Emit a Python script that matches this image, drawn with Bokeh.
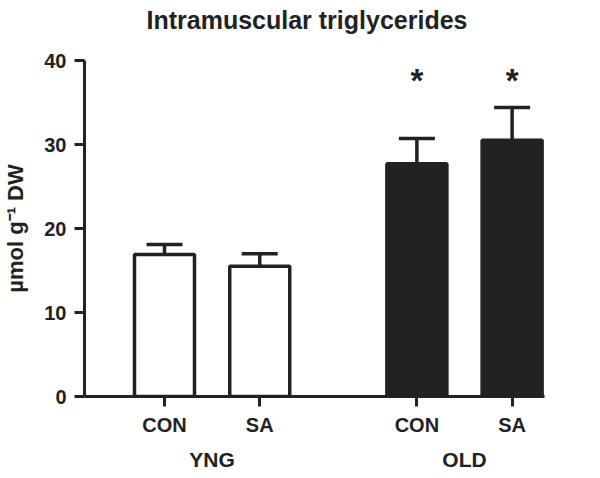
from bokeh.plotting import figure
from bokeh.models import Range1d, FixedTicker, LinearAxis, Whisker, TeeHead, ColumnDataSource, Title
from bokeh.core.properties import value
from bokeh.embed import file_html
from bokeh.resources import INLINE

# ---- data ----
groups = ["YNG", "YNG", "OLD", "OLD"]
conditions = ["CON", "SA", "CON", "SA"]
means = [16.9, 15.5, 27.7, 30.5]
sems = [1.2, 1.5, 3.0, 3.9]
significant = [False, False, True, True]
sig_level = 37.65
y_ticks = [0, 10, 20, 30, 40]
title_text = "Intramuscular triglycerides"
y_label_text = "µmol g⁻¹ DW"

# ---- layout helpers ----
FONT = "Liberation Sans"
INK = "#222222"
group_order = ["YNG", "OLD"]
group_step = 2.65
within = []
seen = {}
for g in groups:
    within.append(seen.get(g, 0))
    seen[g] = seen.get(g, 0) + 1
xs = [group_order.index(g) * group_step + w for g, w in zip(groups, within)]
group_centers = []
for g in group_order:
    gx = [x for x, gg in zip(xs, groups) if gg == g]
    group_centers.append(sum(gx) / len(gx))

fills = ["white" if g == "YNG" else INK for g in groups]
src = ColumnDataSource(dict(x=xs, top=means, upper=[m + s for m, s in zip(means, sems)],
                            fill=fills))

xr = Range1d(-0.84, 3.99)
yr = Range1d(0, 40)
p = figure(frame_width=460, frame_height=336, output_backend="svg", toolbar_location=None,
           x_range=xr, y_range=yr, title=None,
           min_border_left=83, min_border_right=49, min_border_top=60, min_border_bottom=78)

# spacer panel (inner), then the visible title (outer)
p.add_layout(Title(text=" ", text_font_size="1px", standoff=22), "above")
p.add_layout(Title(text=title_text, text_font=FONT, text_font_size="25px",
                   text_font_style="bold", text_color=INK, align="left", offset=62,
                   vertical_align="bottom", standoff=4), "above")

p.outline_line_color = None
p.xgrid.visible = False
p.ygrid.visible = False
p.xaxis.visible = False

# bars
p.vbar(x="x", top="top", bottom=0, width=0.63, source=src, fill_color="fill",
       line_color=INK, line_width=3.5)

# error bars (upper only)
w = Whisker(base="x", lower="top", upper="upper", source=src, dimension="height",
            line_color=INK, line_width=3.5,
            upper_head=TeeHead(size=36, line_color=INK, line_width=3.5), lower_head=None)
p.add_layout(w)

# significance asterisks
sx = [x for x, s in zip(xs, significant) if s]
p.text(x=sx, y=[sig_level] * len(sx), text=["*"] * len(sx), text_align="center",
       text_baseline="alphabetic", text_font=value(FONT), text_font_size="33px",
       text_font_style="bold", text_color=INK)

# y axis
ya = p.yaxis[0]
ya.ticker = FixedTicker(ticks=y_ticks)
ya.axis_label = y_label_text
ya.axis_label_text_font = FONT
ya.axis_label_text_font_size = "22px"
ya.axis_label_text_font_style = "bold"
ya.axis_label_text_color = INK
ya.axis_label_standoff = 13
ya.major_label_text_font = FONT
ya.major_label_text_font_size = "20px"
ya.major_label_text_font_style = "bold"
ya.major_label_text_color = INK
ya.major_label_standoff = 8
ya.axis_line_width = 3
ya.axis_line_color = INK
ya.major_tick_line_width = 3
ya.major_tick_line_color = INK
ya.major_tick_out = 10
ya.major_tick_in = 0
ya.minor_tick_line_color = None

# x axis with condition labels
xa = LinearAxis(ticker=FixedTicker(ticks=xs),
                major_label_overrides={x: c for x, c in zip(xs, conditions)})
xa.major_label_text_font = FONT
xa.major_label_text_font_size = "20px"
xa.major_label_text_font_style = "bold"
xa.major_label_text_color = INK
xa.major_label_standoff = 7
xa.axis_line_width = 3
xa.axis_line_color = INK
xa.major_tick_line_width = 3
xa.major_tick_line_color = INK
xa.major_tick_out = 10
xa.major_tick_in = 0
xa.minor_tick_line_color = None
p.add_layout(xa, "below")

# group labels axis
ga = LinearAxis(ticker=FixedTicker(ticks=group_centers),
                major_label_overrides={x: g for x, g in zip(group_centers, group_order)})
ga.major_label_text_font = FONT
ga.major_label_text_font_size = "21px"
ga.major_label_text_font_style = "bold"
ga.major_label_text_color = INK
ga.major_label_standoff = 3
ga.axis_line_color = None
ga.major_tick_line_color = None
ga.minor_tick_line_color = None
p.add_layout(ga, "below")

open("out.html", "w").write(file_html(p, INLINE))
